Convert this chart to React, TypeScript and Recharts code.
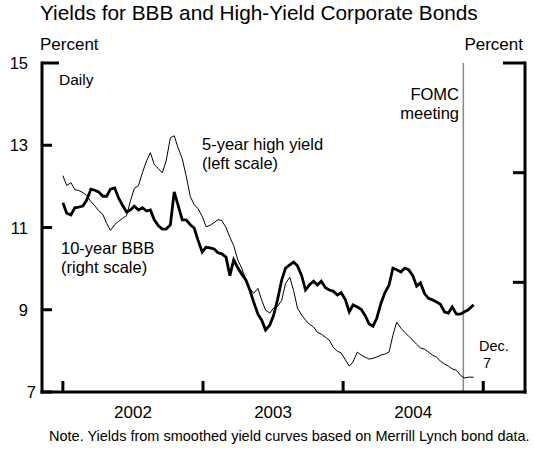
import React from 'react';
import { LineChart, Line, XAxis, YAxis, ReferenceLine } from 'recharts';

const dates = [
  '2002-01-01','2002-01-11','2002-01-22','2002-02-01','2002-02-11','2002-02-22','2002-03-04','2002-03-15','2002-03-25','2002-04-04',
  '2002-04-15','2002-04-25','2002-05-05','2002-05-16','2002-05-26','2002-06-05','2002-06-16','2002-06-26','2002-07-06','2002-07-17',
  '2002-07-27','2002-08-07','2002-08-17','2002-08-27','2002-09-07','2002-09-17','2002-09-27','2002-10-08','2002-10-18','2002-10-28',
  '2002-11-08','2002-11-18','2002-11-29','2002-12-09','2002-12-19','2002-12-30',
  '2003-01-09','2003-01-19','2003-01-30','2003-02-09','2003-02-19','2003-03-02','2003-03-12','2003-03-22','2003-04-02','2003-04-12',
  '2003-04-23','2003-05-03','2003-05-13','2003-05-24','2003-06-03','2003-06-13','2003-06-24','2003-07-04','2003-07-14','2003-07-25',
  '2003-08-04','2003-08-15','2003-08-25','2003-09-04','2003-09-15','2003-09-25','2003-10-05','2003-10-16','2003-10-26','2003-11-05',
  '2003-11-16','2003-11-26','2003-12-06','2003-12-17','2003-12-27',
  '2004-01-07','2004-01-17','2004-01-27','2004-02-07','2004-02-17','2004-02-27','2004-03-09','2004-03-19','2004-03-29','2004-04-09',
  '2004-04-19','2004-04-30','2004-05-10','2004-05-20','2004-05-31','2004-06-10','2004-06-20','2004-07-01','2004-07-11','2004-07-21',
  '2004-08-01','2004-08-11','2004-08-21','2004-09-01','2004-09-11','2004-09-22','2004-10-02','2004-10-12','2004-10-23','2004-11-02',
  '2004-11-12','2004-11-23','2004-12-07',
];

// 5-year high yield, percent (left scale)
const highYield5yr = [
  12.26, 12.02, 12.09, 11.92, 11.90, 11.85, 11.78, 11.63, 11.53, 11.41,
  11.32, 11.10, 10.93, 11.07, 11.15, 11.22, 11.29, 11.65, 11.95, 12.02,
  12.33, 12.62, 12.82, 12.53, 12.43, 12.33, 12.62, 13.18, 13.23, 12.94,
  12.67, 12.26, 11.75, 11.56, 11.46, 11.27,
  11.02, 11.05, 11.12, 11.19, 11.17, 11.00, 10.76, 10.56, 10.20, 10.01,
  9.72, 9.52, 9.40, 9.52, 9.23, 8.99, 8.92, 9.04, 9.08, 9.23,
  9.64, 9.79, 9.47, 9.04, 8.87, 8.75, 8.65, 8.58, 8.45, 8.41,
  8.33, 8.26, 8.09, 7.99, 7.95,
  7.78, 7.63, 7.73, 7.97, 7.90, 7.85, 7.80, 7.82, 7.85, 7.90,
  7.92, 7.97, 8.38, 8.70, 8.55, 8.45, 8.36, 8.26, 8.16, 8.07,
  8.04, 7.97, 7.90, 7.85, 7.75, 7.68, 7.63, 7.56, 7.53, 7.41,
  7.34, 7.36, 7.36,
];

// 10-year BBB, percent (right scale)
const bbb10yr = [
  7.45, 7.26, 7.23, 7.36, 7.37, 7.39, 7.50, 7.70, 7.68, 7.65,
  7.57, 7.57, 7.70, 7.72, 7.54, 7.41, 7.28, 7.32, 7.39, 7.32,
  7.36, 7.30, 7.32, 7.14, 7.03, 6.97, 6.97, 7.05, 7.65, 7.41,
  7.14, 7.14, 7.05, 6.99, 6.77, 6.55,
  6.64, 6.63, 6.61, 6.54, 6.52, 6.46, 6.12, 6.41, 6.26, 6.15,
  6.04, 5.86, 5.64, 5.42, 5.31, 5.13, 5.22, 5.40, 5.68, 6.04,
  6.26, 6.32, 6.37, 6.30, 6.12, 5.86, 5.95, 6.02, 5.95, 6.02,
  5.90, 5.86, 5.84, 5.77, 5.81,
  5.68, 5.46, 5.59, 5.55, 5.51, 5.40, 5.24, 5.20, 5.35, 5.62,
  5.81, 5.95, 6.26, 6.23, 6.19, 6.26, 6.23, 6.12, 5.93, 5.99,
  5.79, 5.71, 5.68, 5.64, 5.60, 5.46, 5.44, 5.55, 5.42, 5.42,
  5.46, 5.50, 5.59,
];

const leftTicks = [7, 9, 11, 13, 15];
const rightTicks = [4, 6, 8, 10];
const xTicks = [2002, 2002.5, 2003, 2003.5, 2004, 2004.5, 2005];
const fomcDate = '2004-11-10';
const xDomain = [2001.851, 2005.298];

const FONT = '"Liberation Sans", Arial, Helvetica, sans-serif';

function toYear(d: string): number {
  const [y, m, day] = d.split('-').map(Number);
  const start = Date.UTC(y, 0, 1);
  const end = Date.UTC(y + 1, 0, 1);
  return y + (Date.UTC(y, m - 1, day) - start) / (end - start);
}

const data = dates.map((d, i) => ({ t: toYear(d), hy: highYield5yr[i], bbb: bbb10yr[i] }));

const LeftTick = (props: any) => {
  const { x, y, payload } = props;
  const v = payload.value;
  const len = v === 15 ? 17 : 10;
  const tx = v === 7 ? x - 6 : x - 14;
  return (
    <g>
      <line x1={x} y1={y} x2={x + len} y2={y} stroke="#000" strokeWidth={3} />
      <text x={tx} y={y + 6} textAnchor="end" fontSize={16.5} fontFamily={FONT} fill="#000">
        {v}
      </text>
    </g>
  );
};

const RightTick = (props: any) => {
  const { x, y, payload } = props;
  const v = payload.value;
  if (v === 4) return <g />;
  const len = v === 10 ? 22 : 12;
  return <line x1={x} y1={y} x2={x - len} y2={y} stroke="#000" strokeWidth={3} />;
};

const BottomTick = (props: any) => {
  const { x, y, payload } = props;
  const v = payload.value;
  if (Number.isInteger(v)) {
    return <line x1={x} y1={y} x2={x} y2={y - 11} stroke="#000" strokeWidth={3} />;
  }
  return (
    <text x={x} y={y + 26} textAnchor="middle" fontSize={17} fontFamily={FONT} fill="#000">
      {String(Math.floor(v))}
    </text>
  );
};

export default function App() {
  const axisLine = { stroke: '#000', strokeWidth: 3, strokeLinecap: 'square' as const };
  return (
    <div style={{ position: 'absolute', left: 0, top: 0, width: 534, height: 449, background: '#fff' }}>
      <LineChart
        width={534}
        height={449}
        data={data}
        margin={{ top: 63, right: 0, bottom: 27, left: 0 }}
      >
        <XAxis
          dataKey="t"
          type="number"
          domain={xDomain}
          allowDataOverflow
          ticks={xTicks}
          interval={0}
          tick={<BottomTick />}
          tickLine={false}
          tickSize={0}
          tickMargin={0}
          axisLine={axisLine}
          height={30}
        />
        <YAxis
          yAxisId="left"
          orientation="left"
          domain={[7, 15]}
          ticks={leftTicks}
          interval={0}
          width={42}
          tick={<LeftTick />}
          tickLine={false}
          tickSize={0}
          tickMargin={0}
          axisLine={axisLine}
        />
        <YAxis
          yAxisId="right"
          orientation="right"
          domain={[4, 10]}
          ticks={rightTicks}
          interval={0}
          width={9}
          tick={<RightTick />}
          tickLine={false}
          tickSize={0}
          tickMargin={0}
          axisLine={axisLine}
        />
        <ReferenceLine x={toYear(fomcDate)} yAxisId="left" stroke="#888" strokeWidth={1.5} />
        <Line
          yAxisId="left"
          type="linear"
          dataKey="hy"
          stroke="#000"
          strokeWidth={1}
          dot={false}
          isAnimationActive={false}
        />
        <Line
          yAxisId="right"
          type="linear"
          dataKey="bbb"
          stroke="#000"
          strokeWidth={2.8}
          dot={false}
          isAnimationActive={false}
        />
      </LineChart>
      <svg
        width={534}
        height={449}
        style={{ position: 'absolute', left: 0, top: 0, pointerEvents: 'none' }}
        fontFamily={FONT}
        fill="#000"
      >
        <text x={40} y={20} fontSize={20.8}>Yields for BBB and High-Yield Corporate Bonds</text>
        <text x={40} y={50} fontSize={17}>Percent</text>
        <text x={523} y={50} fontSize={17} textAnchor="end">Percent</text>
        <text x={59} y={85} fontSize={15.5}>Daily</text>
        <text x={459} y={100} fontSize={16.5} textAnchor="end">FOMC</text>
        <text x={459} y={119} fontSize={16.5} textAnchor="end">meeting</text>
        <text x={202} y={150} fontSize={16.5}>5-year high yield</text>
        <text x={202} y={169} fontSize={16.5}>(left scale)</text>
        <text x={61} y={254} fontSize={16.5}>10-year BBB</text>
        <text x={61} y={273} fontSize={16.5}>(right scale)</text>
        <text x={494} y={351} fontSize={14.5} textAnchor="middle">Dec.</text>
        <text x={487} y={368} fontSize={14.5} textAnchor="middle">7</text>
        <text x={49} y={441} fontSize={14.5}>Note. Yields from smoothed yield curves based on Merrill Lynch bond data.</text>
      </svg>
    </div>
  );
}
